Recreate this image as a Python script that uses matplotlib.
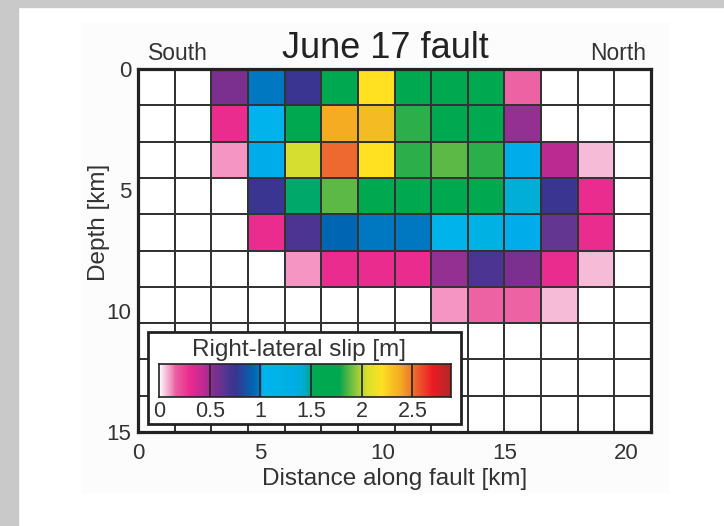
import matplotlib
matplotlib.use("Agg")
import matplotlib.pyplot as plt
import numpy as np
from matplotlib.colors import LinearSegmentedColormap
from matplotlib.patches import Rectangle

plt.rcParams["font.family"] = ["Liberation Sans", "DejaVu Sans"]

# fault model: 14 patches along strike x 10 patches down dip, 1.5 km each
patch_km = 1.5
distance_edges = np.arange(15) * patch_km
depth_edges = np.arange(11) * patch_km

# right-lateral slip [m], rows top (shallow) to bottom (deep)
slip = np.array([
    [0, 0, 0.55, 0.995, 0.75, 1.65, 2.20, 1.65, 1.65, 1.65, 0.16, 0, 0, 0],
    [0, 0, 0.30, 1.10, 1.65, 2.38, 2.32, 1.82, 1.65, 1.65, 0.50, 0, 0, 0],
    [0, 0, 0.11, 1.30, 2.05, 2.52, 2.20, 1.82, 1.88, 1.82, 1.30, 0.45, 0.07, 0],
    [0, 0, 0, 0.75, 1.50, 1.88, 1.65, 1.65, 1.65, 1.65, 1.40, 0.75, 0.30, 0],
    [0, 0, 0, 0.30, 0.68, 0.93, 0.995, 0.995, 1.10, 1.25, 1.30, 0.62, 0.30, 0],
    [0, 0, 0, 0, 0.11, 0.30, 0.30, 0.30, 0.50, 0.68, 0.55, 0.30, 0.07, 0],
    [0, 0, 0, 0, 0, 0, 0, 0, 0.11, 0.16, 0.16, 0.07, 0, 0],
    [0] * 14,
    [0] * 14,
    [0] * 14,
])

slip_max = 2.88
cbar_ticks = [0, 0.5, 1, 1.5, 2, 2.5]
cbar_labels = ["0", "0.5", "1", "1.5", "2", "2.5"]

# colour scale
stops = [
    (0.00, "#ffffff"), (0.07, "#f6bad6"), (0.11, "#f595c4"), (0.16, "#ec5fa0"),
    (0.30, "#eb2b8f"), (0.45, "#bb2a91"), (0.50, "#933092"), (0.55, "#7b2f8e"),
    (0.62, "#633692"), (0.68, "#4b3592"), (0.75, "#3a3590"), (0.93, "#0066b3"),
    (0.995, "#0078c1"), (1.02, "#00b6ef"), (1.25, "#00b1e3"), (1.30, "#00adea"),
    (1.40, "#00aed6"), (1.46, "#00a9b8"), (1.50, "#00a86a"), (1.53, "#00a84f"),
    (1.78, "#00a84f"), (1.82, "#2bae4a"), (1.88, "#5db946"), (1.96, "#9ccb3b"),
    (2.05, "#d6df2f"), (2.20, "#ffe122"), (2.32, "#f3bc22"), (2.38, "#f5ac22"),
    (2.52, "#ee6a30"), (2.70, "#ed1c24"), (2.88, "#b0282a"),
]
cmap = LinearSegmentedColormap.from_list("slip", [(v / slip_max, c) for v, c in stops], N=1024)

fig = plt.figure(figsize=(7.24, 5.26), dpi=100, facecolor="white")
# slide background: grey strips left and top, faint off-white panel
fig.patches.append(Rectangle((0, 0), 18 / 724, 1, transform=fig.transFigure, color="#c9c9c9", zorder=-2))
fig.patches.append(Rectangle((0, 1 - 7 / 526), 1, 7 / 526, transform=fig.transFigure, color="#c9c9c9", zorder=-2))
fig.patches.append(Rectangle((82 / 724, 1 - 492 / 526), 586 / 724, 469 / 526,
                             transform=fig.transFigure, color="#fcfcfc", zorder=-2))

ax = fig.add_axes([138 / 724, 1 - 432 / 526, 513 / 724, 363 / 526])
ax.pcolormesh(distance_edges, depth_edges, slip, cmap=cmap, vmin=0, vmax=slip_max,
              edgecolors="#333333", linewidth=1.1)
ax.set_xlim(0, 21)
ax.set_ylim(15, 0)
ax.set_xticks([0, 5, 10, 15, 20])
ax.set_yticks([0, 5, 10, 15])
ax.tick_params(length=0, labelsize=16, colors="#333333")
ax.tick_params(axis="x", pad=8)
ax.tick_params(axis="y", pad=5)
for s in ax.spines.values():
    s.set_linewidth(2.3)
    s.set_color("#222222")
    s.set_zorder(5)

ax.set_xlabel("Distance along fault [km]", fontsize=17.5, color="#333333", labelpad=3)
ax.set_ylabel("Depth [km]", fontsize=17.5, color="#333333", va="center")
ax.yaxis.set_label_coords(-0.076, 0.578)

ax.text(0.482, 1.030, "June 17 fault", transform=ax.transAxes, ha="center", va="baseline",
        fontsize=26, color="#222222")
ax.text(0.02, 1.025, "South", transform=ax.transAxes, ha="left", va="baseline",
        fontsize=16.5, color="#333333")
ax.text(0.99, 1.025, "North", transform=ax.transAxes, ha="right", va="baseline",
        fontsize=16.5, color="#333333")

# legend box with colour bar
ax.add_patch(Rectangle((0.41, 10.87), 12.8, 3.8, facecolor="white", edgecolor="#222222",
                       linewidth=2.0, zorder=3))
ax.text(6.6, 11.6, "Right-lateral slip [m]", ha="center", va="center", fontsize=17.5,
        color="#333333", zorder=4)

cax = fig.add_axes([159 / 724, 1 - 397 / 526, 292 / 724, 33 / 526])
gradient = np.linspace(0, slip_max, 600)[None, :]
cax.imshow(gradient, extent=[0, slip_max, 0, 1], aspect="auto", cmap=cmap, vmin=0, vmax=slip_max)
for t in cbar_ticks[1:]:
    cax.axvline(t, color="#222222", linewidth=1.2)
cax.set_xlim(0, slip_max)
cax.set_yticks([])
cax.set_xticks(cbar_ticks)
cax.set_xticklabels(cbar_labels)
cax.tick_params(length=0, labelsize=15.5, colors="#333333", pad=3)
for s in cax.spines.values():
    s.set_linewidth(1.2)
    s.set_color("#222222")

fig.savefig("out.png", dpi=100, facecolor="white")
